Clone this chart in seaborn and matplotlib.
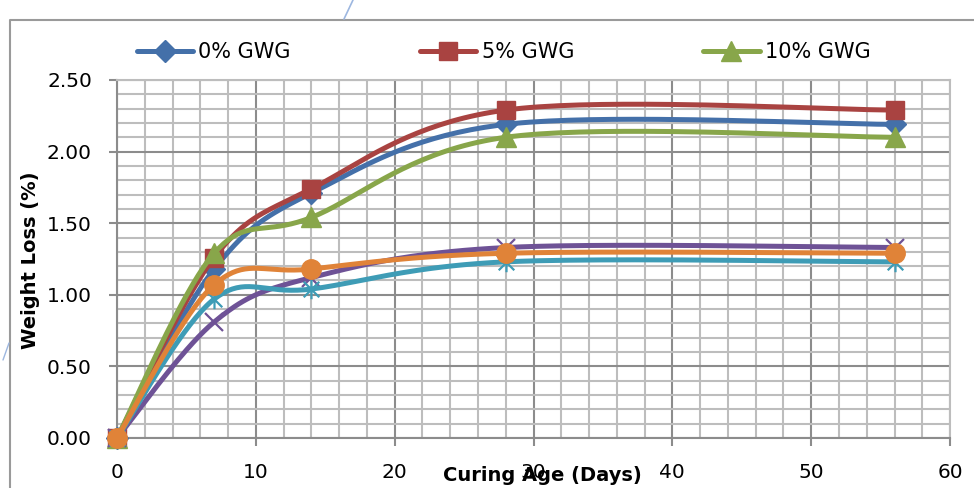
import numpy as np
import matplotlib
matplotlib.use("Agg")
import matplotlib.pyplot as plt
from matplotlib.lines import Line2D
from matplotlib.path import Path
from matplotlib.ticker import MultipleLocator, FormatStrFormatter
import seaborn as sns

# -----------------------------------
# Data
# -----------------------------------
curing_age = [0, 7, 14, 28, 56]

gwg_0 = [0.00, 1.18, 1.71, 2.19, 2.19]
gwg_5 = [0.00, 1.26, 1.74, 2.29, 2.29]
gwg_10 = [0.00, 1.29, 1.54, 2.10, 2.10]
series_4 = [0.00, 0.81, 1.12, 1.33, 1.33]
series_5 = [0.00, 0.97, 1.04, 1.23, 1.23]
series_6 = [0.00, 1.07, 1.18, 1.29, 1.29]

labels = ["0% GWG", "5% GWG", "10% GWG", None, None, None]

# asterisk marker like Excel's "star" (x plus vertical bar)
star = Path(
    [(0, -1), (0, 1), (-0.8, -0.8), (0.8, 0.8), (-0.8, 0.8), (0.8, -0.8)],
    [Path.MOVETO, Path.LINETO] * 3,
)

styles = [
    dict(color="#4470A9", marker="D", ms=11),
    dict(color="#A94341", marker="s", ms=13),
    dict(color="#88A64A", marker="^", ms=14),
    dict(color="#6E5296", marker="x", ms=13),
    dict(color="#3E9CB6", marker=star, ms=14),
    dict(color="#E08338", marker="o", ms=14),
]


def excel_smooth(x, y, n=40):
    # Bezier smoothing similar to Excel's "smoothed line"
    pts = np.column_stack([x, y]).astype(float)
    out = [pts[0]]
    t = np.linspace(0, 1, n)[1:, None]
    for i in range(len(pts) - 1):
        p0 = pts[i - 1] if i > 0 else pts[i]
        p1 = pts[i]
        p2 = pts[i + 1]
        p3 = pts[i + 2] if i + 2 < len(pts) else pts[i + 1]
        c1 = p1 + (p2 - p0) / 6
        c2 = p2 - (p3 - p1) / 6
        seg = ((1 - t) ** 3) * p1 + 3 * ((1 - t) ** 2) * t * c1 \
            + 3 * (1 - t) * (t ** 2) * c2 + (t ** 3) * p2
        out.extend(seg)
    return np.array(out)


# -----------------------------------
# Figure
# -----------------------------------
sns.set_style("white")
plt.rcParams["font.family"] = ["DejaVu Sans"]
plt.rcParams["text.color"] = "black"
plt.rcParams["axes.labelcolor"] = "black"
plt.rcParams["xtick.labelcolor"] = "black"
plt.rcParams["ytick.labelcolor"] = "black"

fig = plt.figure(figsize=(9.74, 4.88), dpi=100)
ax = fig.add_axes([0.1201, 0.1025, 0.8553, 0.7336])

ax.set_xlim(0, 60)
ax.set_ylim(0, 2.5)

ax.xaxis.set_major_locator(MultipleLocator(10))
ax.xaxis.set_minor_locator(MultipleLocator(2))
ax.yaxis.set_major_locator(MultipleLocator(0.5))
ax.yaxis.set_minor_locator(MultipleLocator(0.1))
ax.yaxis.set_major_formatter(FormatStrFormatter("%.2f"))

ax.grid(which="minor", color="#BDBDBD", linewidth=1.5, zorder=0)
ax.grid(which="major", color="#8C8C8C", linewidth=1.5, zorder=0)
ax.set_axisbelow(True)

for side in ["top", "right"]:
    ax.spines[side].set_color("#BDBDBD")
    ax.spines[side].set_linewidth(1.5)
for side in ["left", "bottom"]:
    ax.spines[side].set_color("#8C8C8C")
    ax.spines[side].set_linewidth(1.5)

ax.tick_params(axis="both", which="major", direction="out", length=6,
               width=1.5, color="#8C8C8C", pad=12, labelsize=14.5,
               labelcolor="black", bottom=True, left=True)
ax.tick_params(axis="both", which="minor", length=0)

all_series = [gwg_0, gwg_5, gwg_10, series_4, series_5, series_6]

handles = []
for k, (vals, st, lab) in enumerate(zip(all_series, styles, labels)):
    curve = excel_smooth(curing_age, vals)
    sns.lineplot(x=curve[:, 0], y=curve[:, 1], sort=False, estimator=None,
                 color=st["color"], linewidth=3.6, ax=ax, zorder=3 + 2 * k,
                 clip_on=False)
    mew = 1.6 if k in (3, 4) else 1.0
    ax.plot(curing_age, vals, linestyle="none", marker=st["marker"],
            markersize=st["ms"], color=st["color"], markeredgecolor=st["color"],
            markeredgewidth=mew, zorder=4 + 2 * k, clip_on=False)
    if lab is not None:
        handles.append(Line2D([], [], color=st["color"], linewidth=3.6,
                              marker=st["marker"], markersize=st["ms"],
                              markeredgecolor=st["color"], label=lab))

ax.set_xlabel("Curing Age (Days)", fontsize=14, fontweight="bold", color="black")
ax.xaxis.set_label_coords(0.511, -0.078)
ax.set_ylabel("Weight Loss (%)", fontsize=14, fontweight="bold", color="black")
ax.yaxis.set_label_coords(-0.092, 0.497)

fig.legend(handles=handles, loc="center left",
           bbox_to_anchor=(137 / 974, 1 - 52 / 488), ncol=3, frameon=False,
           fontsize=15, handlelength=2.7, handletextpad=0.25,
           columnspacing=6.2, borderpad=0, borderaxespad=0, markerscale=1.0,
           labelcolor="black")

# outer chart frame (only the left and top edges are inside the picture)
fig.add_artist(Line2D([10 / 974, 10 / 974, 1.0], [0.0, 1 - 20 / 488, 1 - 20 / 488],
                      transform=fig.transFigure, color="#9A9A9A", linewidth=1.5))
# small page-drawing strokes visible in the screenshot
fig.add_artist(Line2D([353 / 974, 344 / 974], [1.0, 1 - 19 / 488],
                      transform=fig.transFigure, color="#9DB7E0", linewidth=1.2))
fig.add_artist(Line2D([3 / 974, 9 / 974], [1 - 360 / 488, 1 - 343 / 488],
                      transform=fig.transFigure, color="#9DB7E0", linewidth=1.0))

fig.savefig("out.png", dpi=100)
